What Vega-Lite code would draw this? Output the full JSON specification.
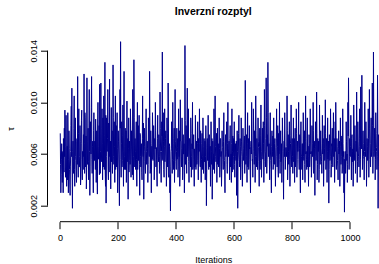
{
"$schema": "https://vega.github.io/schema/vega-lite/v6.json",
"width": 331.5,
"height": 187,
"autosize": {"type": "none"},
"padding": {"left": 47.5, "top": 34.7, "right": 0, "bottom": 42.3},
"background": "white",
"title": {"text": "Inverzní rozptyl", "font": "Liberation Sans", "fontSize": 10.5, "fontWeight": "bold", "color": "black", "anchor": "middle", "offset": 17},
"config": {"view": {"stroke": null}, "font": "Liberation Sans"},
"layer": [
{
"data": {"values": [
{"i":1,"v":0.0076},{"i":3,"v":0.0030},{"i":5,"v":0.0056},{"i":7,"v":0.0048},{"i":9,"v":0.0060},{"i":11,"v":0.0030},{"i":13,"v":0.0055},{"i":15,"v":0.0080},{"i":17,"v":0.0094},{"i":19,"v":0.0042},
{"i":21,"v":0.0090},{"i":23,"v":0.0035},{"i":25,"v":0.0066},{"i":27,"v":0.0092},{"i":29,"v":0.0030},{"i":31,"v":0.0078},{"i":33,"v":0.0048},{"i":35,"v":0.0028},{"i":37,"v":0.0062},{"i":39,"v":0.0097},
{"i":41,"v":0.0111},{"i":43,"v":0.0018},{"i":45,"v":0.0070},{"i":47,"v":0.0045},{"i":49,"v":0.0105},{"i":51,"v":0.0035},{"i":53,"v":0.0088},{"i":55,"v":0.0055},{"i":57,"v":0.0038},{"i":59,"v":0.0072},
{"i":61,"v":0.0120},{"i":63,"v":0.0042},{"i":65,"v":0.0095},{"i":67,"v":0.0050},{"i":69,"v":0.0082},{"i":71,"v":0.0036},{"i":73,"v":0.0068},{"i":75,"v":0.0094},{"i":77,"v":0.0040},{"i":79,"v":0.0058},
{"i":81,"v":0.0075},{"i":83,"v":0.0122},{"i":85,"v":0.0045},{"i":87,"v":0.0088},{"i":89,"v":0.0060},{"i":91,"v":0.0033},{"i":93,"v":0.0119},{"i":95,"v":0.0052},{"i":97,"v":0.0080},{"i":99,"v":0.0040},
{"i":101,"v":0.0110},{"i":103,"v":0.0028},{"i":105,"v":0.0085},{"i":107,"v":0.0060},{"i":109,"v":0.0120},{"i":111,"v":0.0045},{"i":113,"v":0.0070},{"i":115,"v":0.0030},{"i":117,"v":0.0092},{"i":119,"v":0.0055},
{"i":121,"v":0.0065},{"i":123,"v":0.0087},{"i":125,"v":0.0038},{"i":127,"v":0.0078},{"i":129,"v":0.0029},{"i":131,"v":0.0100},{"i":133,"v":0.0056},{"i":135,"v":0.0082},{"i":137,"v":0.0114},{"i":139,"v":0.0045},
{"i":141,"v":0.0115},{"i":143,"v":0.0060},{"i":145,"v":0.0095},{"i":147,"v":0.0040},{"i":149,"v":0.0072},{"i":151,"v":0.0105},{"i":153,"v":0.0048},{"i":155,"v":0.0131},{"i":157,"v":0.0035},{"i":159,"v":0.0022},
{"i":161,"v":0.0088},{"i":163,"v":0.0062},{"i":165,"v":0.0110},{"i":167,"v":0.0040},{"i":169,"v":0.0075},{"i":171,"v":0.0118},{"i":173,"v":0.0055},{"i":175,"v":0.0033},{"i":177,"v":0.0096},{"i":179,"v":0.0070},
{"i":181,"v":0.0045},{"i":183,"v":0.0129},{"i":185,"v":0.0058},{"i":187,"v":0.0085},{"i":189,"v":0.0038},{"i":191,"v":0.0105},{"i":193,"v":0.0068},{"i":195,"v":0.0050},{"i":197,"v":0.0092},{"i":199,"v":0.0030},
{"i":201,"v":0.0078},{"i":203,"v":0.0060},{"i":205,"v":0.0020},{"i":207,"v":0.0110},{"i":209,"v":0.0147},{"i":211,"v":0.0042},{"i":213,"v":0.0085},{"i":215,"v":0.0055},{"i":217,"v":0.0098},{"i":219,"v":0.0035},
{"i":221,"v":0.0124},{"i":223,"v":0.0048},{"i":225,"v":0.0080},{"i":227,"v":0.0062},{"i":229,"v":0.0038},{"i":231,"v":0.0101},{"i":233,"v":0.0070},{"i":235,"v":0.0025},{"i":237,"v":0.0088},{"i":239,"v":0.0055},
{"i":241,"v":0.0065},{"i":243,"v":0.0095},{"i":245,"v":0.0042},{"i":247,"v":0.0078},{"i":249,"v":0.0058},{"i":251,"v":0.0110},{"i":253,"v":0.0040},{"i":255,"v":0.0133},{"i":257,"v":0.0060},{"i":259,"v":0.0072},
{"i":261,"v":0.0048},{"i":263,"v":0.0085},{"i":265,"v":0.0035},{"i":267,"v":0.0100},{"i":269,"v":0.0062},{"i":271,"v":0.0055},{"i":273,"v":0.0090},{"i":275,"v":0.0028},{"i":277,"v":0.0075},{"i":279,"v":0.0050},
{"i":281,"v":0.0068},{"i":283,"v":0.0040},{"i":285,"v":0.0105},{"i":287,"v":0.0058},{"i":289,"v":0.0025},{"i":291,"v":0.0080},{"i":293,"v":0.0062},{"i":295,"v":0.0045},{"i":297,"v":0.0095},{"i":299,"v":0.0052},
{"i":301,"v":0.0070},{"i":303,"v":0.0038},{"i":305,"v":0.0088},{"i":307,"v":0.0060},{"i":309,"v":0.0124},{"i":311,"v":0.0045},{"i":313,"v":0.0078},{"i":315,"v":0.0030},{"i":317,"v":0.0066},{"i":319,"v":0.0092},
{"i":321,"v":0.0055},{"i":323,"v":0.0082},{"i":325,"v":0.0040},{"i":327,"v":0.0072},{"i":329,"v":0.0100},{"i":331,"v":0.0050},{"i":333,"v":0.0065},{"i":335,"v":0.0035},{"i":337,"v":0.0090},{"i":339,"v":0.0058},
{"i":341,"v":0.0075},{"i":343,"v":0.0045},{"i":345,"v":0.0108},{"i":347,"v":0.0062},{"i":349,"v":0.0038},{"i":351,"v":0.0085},{"i":353,"v":0.0139},{"i":355,"v":0.0055},{"i":357,"v":0.0070},{"i":359,"v":0.0042},
{"i":361,"v":0.0095},{"i":363,"v":0.0060},{"i":365,"v":0.0078},{"i":367,"v":0.0035},{"i":369,"v":0.0088},{"i":371,"v":0.0050},{"i":373,"v":0.0115},{"i":375,"v":0.0042},{"i":377,"v":0.0068},{"i":379,"v":0.0030},
{"i":381,"v":0.0016},{"i":383,"v":0.0062},{"i":385,"v":0.0085},{"i":387,"v":0.0045},{"i":389,"v":0.0100},{"i":391,"v":0.0055},{"i":393,"v":0.0072},{"i":395,"v":0.0038},{"i":397,"v":0.0110},{"i":399,"v":0.0060},
{"i":401,"v":0.0048},{"i":403,"v":0.0080},{"i":405,"v":0.0065},{"i":407,"v":0.0042},{"i":409,"v":0.0095},{"i":411,"v":0.0058},{"i":413,"v":0.0035},{"i":415,"v":0.0102},{"i":417,"v":0.0070},{"i":419,"v":0.0050},
{"i":421,"v":0.0088},{"i":423,"v":0.0040},{"i":425,"v":0.0075},{"i":427,"v":0.0060},{"i":429,"v":0.0030},{"i":431,"v":0.0144},{"i":433,"v":0.0052},{"i":435,"v":0.0082},{"i":437,"v":0.0045},{"i":439,"v":0.0111},
{"i":441,"v":0.0062},{"i":443,"v":0.0095},{"i":445,"v":0.0038},{"i":447,"v":0.0072},{"i":449,"v":0.0055},{"i":451,"v":0.0088},{"i":453,"v":0.0042},{"i":455,"v":0.0068},{"i":457,"v":0.0100},{"i":459,"v":0.0050},
{"i":461,"v":0.0075},{"i":463,"v":0.0035},{"i":465,"v":0.0062},{"i":467,"v":0.0090},{"i":469,"v":0.0048},{"i":471,"v":0.0070},{"i":473,"v":0.0055},{"i":475,"v":0.0085},{"i":477,"v":0.0040},{"i":479,"v":0.0065},
{"i":481,"v":0.0095},{"i":483,"v":0.0052},{"i":485,"v":0.0078},{"i":487,"v":0.0038},{"i":489,"v":0.0068},{"i":491,"v":0.0058},{"i":493,"v":0.0088},{"i":495,"v":0.0045},{"i":497,"v":0.0072},{"i":499,"v":0.0060},
{"i":501,"v":0.0040},{"i":503,"v":0.0082},{"i":505,"v":0.0020},{"i":507,"v":0.0065},{"i":509,"v":0.0055},{"i":511,"v":0.0090},{"i":513,"v":0.0048},{"i":515,"v":0.0075},{"i":517,"v":0.0062},{"i":519,"v":0.0035},
{"i":521,"v":0.0085},{"i":523,"v":0.0052},{"i":525,"v":0.0025},{"i":527,"v":0.0070},{"i":529,"v":0.0060},{"i":531,"v":0.0095},{"i":533,"v":0.0045},{"i":535,"v":0.0105},{"i":537,"v":0.0058},{"i":539,"v":0.0068},
{"i":541,"v":0.0038},{"i":543,"v":0.0080},{"i":545,"v":0.0062},{"i":547,"v":0.0050},{"i":549,"v":0.0088},{"i":551,"v":0.0042},{"i":553,"v":0.0072},{"i":555,"v":0.0058},{"i":557,"v":0.0035},{"i":559,"v":0.0078},
{"i":561,"v":0.0065},{"i":563,"v":0.0048},{"i":565,"v":0.0092},{"i":567,"v":0.0055},{"i":569,"v":0.0030},{"i":571,"v":0.0075},{"i":573,"v":0.0062},{"i":575,"v":0.0085},{"i":577,"v":0.0045},{"i":579,"v":0.0100},
{"i":581,"v":0.0058},{"i":583,"v":0.0070},{"i":585,"v":0.0040},{"i":587,"v":0.0082},{"i":589,"v":0.0055},{"i":591,"v":0.0038},{"i":593,"v":0.0095},{"i":595,"v":0.0062},{"i":597,"v":0.0048},{"i":599,"v":0.0072},
{"i":601,"v":0.0085},{"i":603,"v":0.0042},{"i":605,"v":0.0068},{"i":607,"v":0.0055},{"i":609,"v":0.0028},{"i":611,"v":0.0078},{"i":613,"v":0.0018},{"i":615,"v":0.0060},{"i":617,"v":0.0090},{"i":619,"v":0.0050},
{"i":621,"v":0.0072},{"i":623,"v":0.0040},{"i":625,"v":0.0088},{"i":627,"v":0.0062},{"i":629,"v":0.0035},{"i":631,"v":0.0080},{"i":633,"v":0.0055},{"i":635,"v":0.0068},{"i":637,"v":0.0045},{"i":639,"v":0.0117},
{"i":641,"v":0.0052},{"i":643,"v":0.0075},{"i":645,"v":0.0038},{"i":647,"v":0.0092},{"i":649,"v":0.0060},{"i":651,"v":0.0048},{"i":653,"v":0.0082},{"i":655,"v":0.0065},{"i":657,"v":0.0030},{"i":659,"v":0.0070},
{"i":661,"v":0.0100},{"i":663,"v":0.0055},{"i":665,"v":0.0042},{"i":667,"v":0.0095},{"i":669,"v":0.0062},{"i":671,"v":0.0078},{"i":673,"v":0.0038},{"i":675,"v":0.0105},{"i":677,"v":0.0058},{"i":679,"v":0.0072},
{"i":681,"v":0.0048},{"i":683,"v":0.0088},{"i":685,"v":0.0065},{"i":687,"v":0.0035},{"i":689,"v":0.0080},{"i":691,"v":0.0055},{"i":693,"v":0.0098},{"i":695,"v":0.0042},{"i":697,"v":0.0070},{"i":699,"v":0.0060},
{"i":701,"v":0.0085},{"i":703,"v":0.0038},{"i":705,"v":0.0110},{"i":707,"v":0.0062},{"i":709,"v":0.0050},{"i":711,"v":0.0119},{"i":713,"v":0.0045},{"i":715,"v":0.0075},{"i":717,"v":0.0131},{"i":719,"v":0.0058},
{"i":721,"v":0.0068},{"i":723,"v":0.0040},{"i":725,"v":0.0092},{"i":727,"v":0.0055},{"i":729,"v":0.0030},{"i":731,"v":0.0078},{"i":733,"v":0.0062},{"i":735,"v":0.0048},{"i":737,"v":0.0088},{"i":739,"v":0.0052},
{"i":741,"v":0.0072},{"i":743,"v":0.0035},{"i":745,"v":0.0065},{"i":747,"v":0.0095},{"i":749,"v":0.0050},{"i":751,"v":0.0082},{"i":753,"v":0.0042},{"i":755,"v":0.0060},{"i":757,"v":0.0100},{"i":759,"v":0.0045},
{"i":761,"v":0.0078},{"i":763,"v":0.0055},{"i":765,"v":0.0038},{"i":767,"v":0.0088},{"i":769,"v":0.0062},{"i":771,"v":0.0025},{"i":773,"v":0.0070},{"i":775,"v":0.0092},{"i":777,"v":0.0048},{"i":779,"v":0.0065},
{"i":781,"v":0.0058},{"i":783,"v":0.0105},{"i":785,"v":0.0040},{"i":787,"v":0.0075},{"i":789,"v":0.0052},{"i":791,"v":0.0085},{"i":793,"v":0.0035},{"i":795,"v":0.0068},{"i":797,"v":0.0098},{"i":799,"v":0.0050},
{"i":801,"v":0.0072},{"i":803,"v":0.0045},{"i":805,"v":0.0088},{"i":807,"v":0.0060},{"i":809,"v":0.0038},{"i":811,"v":0.0080},{"i":813,"v":0.0055},{"i":815,"v":0.0095},{"i":817,"v":0.0042},{"i":819,"v":0.0070},
{"i":821,"v":0.0062},{"i":823,"v":0.0100},{"i":825,"v":0.0048},{"i":827,"v":0.0075},{"i":829,"v":0.0030},{"i":831,"v":0.0085},{"i":833,"v":0.0058},{"i":835,"v":0.0068},{"i":837,"v":0.0040},{"i":839,"v":0.0092},
{"i":841,"v":0.0055},{"i":843,"v":0.0078},{"i":845,"v":0.0038},{"i":847,"v":0.0105},{"i":849,"v":0.0062},{"i":851,"v":0.0048},{"i":853,"v":0.0088},{"i":855,"v":0.0065},{"i":857,"v":0.0035},{"i":859,"v":0.0075},
{"i":861,"v":0.0050},{"i":863,"v":0.0095},{"i":865,"v":0.0060},{"i":867,"v":0.0042},{"i":869,"v":0.0082},{"i":871,"v":0.0058},{"i":873,"v":0.0100},{"i":875,"v":0.0045},{"i":877,"v":0.0070},{"i":879,"v":0.0028},
{"i":881,"v":0.0085},{"i":883,"v":0.0055},{"i":885,"v":0.0108},{"i":887,"v":0.0040},{"i":889,"v":0.0072},{"i":891,"v":0.0062},{"i":893,"v":0.0038},{"i":895,"v":0.0098},{"i":897,"v":0.0052},{"i":899,"v":0.0078},
{"i":901,"v":0.0060},{"i":903,"v":0.0045},{"i":905,"v":0.0090},{"i":907,"v":0.0068},{"i":909,"v":0.0035},{"i":911,"v":0.0082},{"i":913,"v":0.0055},{"i":915,"v":0.0102},{"i":917,"v":0.0048},{"i":919,"v":0.0072},
{"i":921,"v":0.0038},{"i":923,"v":0.0088},{"i":925,"v":0.0062},{"i":927,"v":0.0022},{"i":929,"v":0.0075},{"i":931,"v":0.0055},{"i":933,"v":0.0095},{"i":935,"v":0.0042},{"i":937,"v":0.0068},{"i":939,"v":0.0080},
{"i":941,"v":0.0050},{"i":943,"v":0.0092},{"i":945,"v":0.0060},{"i":947,"v":0.0038},{"i":949,"v":0.0085},{"i":951,"v":0.0100},{"i":953,"v":0.0048},{"i":955,"v":0.0072},{"i":957,"v":0.0055},{"i":959,"v":0.0040},
{"i":961,"v":0.0078},{"i":963,"v":0.0062},{"i":965,"v":0.0035},{"i":967,"v":0.0088},{"i":969,"v":0.0052},{"i":971,"v":0.0070},{"i":973,"v":0.0045},{"i":975,"v":0.0095},{"i":977,"v":0.0058},{"i":979,"v":0.0030},
{"i":981,"v":0.0015},{"i":983,"v":0.0062},{"i":985,"v":0.0045},{"i":987,"v":0.0085},{"i":989,"v":0.0055},{"i":991,"v":0.0038},{"i":993,"v":0.0100},{"i":995,"v":0.0119},{"i":997,"v":0.0048},{"i":999,"v":0.0072},
{"i":1001,"v":0.0058},{"i":1003,"v":0.0090},{"i":1005,"v":0.0040},{"i":1007,"v":0.0075},{"i":1009,"v":0.0062},{"i":1011,"v":0.0035},{"i":1013,"v":0.0098},{"i":1015,"v":0.0055},{"i":1017,"v":0.0082},{"i":1019,"v":0.0045},
{"i":1021,"v":0.0070},{"i":1023,"v":0.0108},{"i":1025,"v":0.0038},{"i":1027,"v":0.0085},{"i":1029,"v":0.0060},{"i":1031,"v":0.0050},{"i":1033,"v":0.0095},{"i":1035,"v":0.0042},{"i":1037,"v":0.0112},{"i":1039,"v":0.0065},
{"i":1041,"v":0.0121},{"i":1043,"v":0.0048},{"i":1045,"v":0.0078},{"i":1047,"v":0.0058},{"i":1049,"v":0.0040},{"i":1051,"v":0.0100},{"i":1053,"v":0.0062},{"i":1055,"v":0.0085},{"i":1057,"v":0.0035},{"i":1059,"v":0.0072},
{"i":1061,"v":0.0055},{"i":1063,"v":0.0095},{"i":1065,"v":0.0042},{"i":1067,"v":0.0110},{"i":1069,"v":0.0068},{"i":1071,"v":0.0050},{"i":1073,"v":0.0088},{"i":1075,"v":0.0062},{"i":1077,"v":0.0115},{"i":1079,"v":0.0045},
{"i":1081,"v":0.0139},{"i":1083,"v":0.0058},{"i":1085,"v":0.0080},{"i":1087,"v":0.0040},{"i":1089,"v":0.0092},{"i":1091,"v":0.0065},{"i":1093,"v":0.0048},{"i":1095,"v":0.0121},{"i":1097,"v":0.0018},{"i":1099,"v":0.0075},
{"i":2,"v":0.0052},{"i":4,"v":0.0044},{"i":6,"v":0.0068},{"i":8,"v":0.0038},{"i":10,"v":0.0062},{"i":12,"v":0.0072},{"i":14,"v":0.0046},{"i":16,"v":0.0058},{"i":18,"v":0.0066},{"i":20,"v":0.0050},
{"i":22,"v":0.0060},{"i":24,"v":0.0048},{"i":26,"v":0.0040},{"i":28,"v":0.0074},{"i":30,"v":0.0056},{"i":32,"v":0.0064},{"i":34,"v":0.0036},{"i":36,"v":0.0050},{"i":38,"v":0.0082},{"i":40,"v":0.0058},
{"i":42,"v":0.0046},{"i":44,"v":0.0062},{"i":46,"v":0.0054},{"i":48,"v":0.0080},{"i":50,"v":0.0048},{"i":52,"v":0.0066},{"i":54,"v":0.0058},{"i":56,"v":0.0044},{"i":58,"v":0.0070},{"i":60,"v":0.0052},
{"i":62,"v":0.0064},{"i":64,"v":0.0076},{"i":66,"v":0.0050},{"i":68,"v":0.0058},{"i":70,"v":0.0070},{"i":72,"v":0.0044},{"i":74,"v":0.0086},{"i":76,"v":0.0056},{"i":78,"v":0.0062},{"i":80,"v":0.0048},
{"i":82,"v":0.0058},{"i":84,"v":0.0068},{"i":86,"v":0.0092},{"i":88,"v":0.0050},{"i":90,"v":0.0074},{"i":92,"v":0.0046},{"i":94,"v":0.0064},{"i":96,"v":0.0070},{"i":98,"v":0.0054},{"i":100,"v":0.0084},
{"i":102,"v":0.0062},{"i":104,"v":0.0050},{"i":106,"v":0.0072},{"i":108,"v":0.0096},{"i":110,"v":0.0056},{"i":112,"v":0.0066},{"i":114,"v":0.0048},{"i":116,"v":0.0078},{"i":118,"v":0.0060},{"i":120,"v":0.0070},
{"i":122,"v":0.0048},{"i":124,"v":0.0074},{"i":126,"v":0.0060},{"i":128,"v":0.0052},{"i":130,"v":0.0084},{"i":132,"v":0.0058},{"i":134,"v":0.0066},{"i":136,"v":0.0044},{"i":138,"v":0.0076},{"i":140,"v":0.0062},
{"i":142,"v":0.0080},{"i":144,"v":0.0054},{"i":146,"v":0.0068},{"i":148,"v":0.0088},{"i":150,"v":0.0050},{"i":152,"v":0.0062},{"i":154,"v":0.0074},{"i":156,"v":0.0046},{"i":158,"v":0.0090},{"i":160,"v":0.0058},
{"i":162,"v":0.0064},{"i":164,"v":0.0072},{"i":166,"v":0.0050},{"i":168,"v":0.0084},{"i":170,"v":0.0058},{"i":172,"v":0.0046},{"i":174,"v":0.0070},{"i":176,"v":0.0062},{"i":178,"v":0.0054},{"i":180,"v":0.0078},
{"i":182,"v":0.0060},{"i":184,"v":0.0088},{"i":186,"v":0.0052},{"i":188,"v":0.0066},{"i":190,"v":0.0074},{"i":192,"v":0.0048},{"i":194,"v":0.0082},{"i":196,"v":0.0058},{"i":198,"v":0.0064},{"i":200,"v":0.0050},
{"i":202,"v":0.0070},{"i":204,"v":0.0046},{"i":206,"v":0.0060},{"i":208,"v":0.0080},{"i":210,"v":0.0056},{"i":212,"v":0.0068},{"i":214,"v":0.0050},{"i":216,"v":0.0074},{"i":218,"v":0.0062},{"i":220,"v":0.0086},
{"i":222,"v":0.0058},{"i":224,"v":0.0066},{"i":226,"v":0.0048},{"i":228,"v":0.0078},{"i":230,"v":0.0060},{"i":232,"v":0.0054},{"i":234,"v":0.0072},{"i":236,"v":0.0064},{"i":238,"v":0.0046},{"i":240,"v":0.0070},
{"i":242,"v":0.0052},{"i":244,"v":0.0080},{"i":246,"v":0.0060},{"i":248,"v":0.0066},{"i":250,"v":0.0044},{"i":252,"v":0.0074},{"i":254,"v":0.0058},{"i":256,"v":0.0088},{"i":258,"v":0.0050},{"i":260,"v":0.0062},
{"i":262,"v":0.0070},{"i":264,"v":0.0056},{"i":266,"v":0.0064},{"i":268,"v":0.0048},{"i":270,"v":0.0082},{"i":272,"v":0.0060},{"i":274,"v":0.0052},{"i":276,"v":0.0076},{"i":278,"v":0.0058},{"i":280,"v":0.0066},
{"i":282,"v":0.0046},{"i":284,"v":0.0072},{"i":286,"v":0.0060},{"i":288,"v":0.0084},{"i":290,"v":0.0054},{"i":292,"v":0.0066},{"i":294,"v":0.0050},{"i":296,"v":0.0070},{"i":298,"v":0.0062},{"i":300,"v":0.0056},
{"i":302,"v":0.0064},{"i":304,"v":0.0052},{"i":306,"v":0.0074},{"i":308,"v":0.0058},{"i":310,"v":0.0090},{"i":312,"v":0.0048},{"i":314,"v":0.0068},{"i":316,"v":0.0060},{"i":318,"v":0.0056},{"i":320,"v":0.0078},
{"i":322,"v":0.0060},{"i":324,"v":0.0070},{"i":326,"v":0.0050},{"i":328,"v":0.0064},{"i":330,"v":0.0078},{"i":332,"v":0.0056},{"i":334,"v":0.0046},{"i":336,"v":0.0072},{"i":338,"v":0.0062},{"i":340,"v":0.0054},
{"i":342,"v":0.0068},{"i":344,"v":0.0058},{"i":346,"v":0.0080},{"i":348,"v":0.0050},{"i":350,"v":0.0062},{"i":352,"v":0.0074},{"i":354,"v":0.0056},{"i":356,"v":0.0092},{"i":358,"v":0.0048},{"i":360,"v":0.0066},
{"i":362,"v":0.0054},{"i":364,"v":0.0072},{"i":366,"v":0.0060},{"i":368,"v":0.0046},{"i":370,"v":0.0076},{"i":372,"v":0.0058},{"i":374,"v":0.0084},{"i":376,"v":0.0052},{"i":378,"v":0.0066},{"i":380,"v":0.0044},
{"i":382,"v":0.0050},{"i":384,"v":0.0064},{"i":386,"v":0.0074},{"i":388,"v":0.0056},{"i":390,"v":0.0068},{"i":392,"v":0.0048},{"i":394,"v":0.0080},{"i":396,"v":0.0060},{"i":398,"v":0.0070},{"i":400,"v":0.0054},
{"i":402,"v":0.0062},{"i":404,"v":0.0056},{"i":406,"v":0.0072},{"i":408,"v":0.0050},{"i":410,"v":0.0066},{"i":412,"v":0.0078},{"i":414,"v":0.0046},{"i":416,"v":0.0070},{"i":418,"v":0.0058},{"i":420,"v":0.0064},
{"i":422,"v":0.0074},{"i":424,"v":0.0052},{"i":426,"v":0.0060},{"i":428,"v":0.0068},{"i":430,"v":0.0048},{"i":432,"v":0.0086},{"i":434,"v":0.0062},{"i":436,"v":0.0056},{"i":438,"v":0.0080},{"i":440,"v":0.0058},
{"i":442,"v":0.0066},{"i":444,"v":0.0054},{"i":446,"v":0.0072},{"i":448,"v":0.0060},{"i":450,"v":0.0050},{"i":452,"v":0.0076},{"i":454,"v":0.0058},{"i":456,"v":0.0064},{"i":458,"v":0.0048},{"i":460,"v":0.0070},
{"i":462,"v":0.0056},{"i":464,"v":0.0064},{"i":466,"v":0.0050},{"i":468,"v":0.0074},{"i":470,"v":0.0060},{"i":472,"v":0.0052},{"i":474,"v":0.0068},{"i":476,"v":0.0058},{"i":478,"v":0.0072},{"i":480,"v":0.0062},
{"i":482,"v":0.0068},{"i":484,"v":0.0050},{"i":486,"v":0.0062},{"i":488,"v":0.0056},{"i":490,"v":0.0076},{"i":492,"v":0.0048},{"i":494,"v":0.0066},{"i":496,"v":0.0060},{"i":498,"v":0.0054},{"i":500,"v":0.0070},
{"i":502,"v":0.0058},{"i":504,"v":0.0064},{"i":506,"v":0.0046},{"i":508,"v":0.0072},{"i":510,"v":0.0060},{"i":512,"v":0.0054},{"i":514,"v":0.0068},{"i":516,"v":0.0050},{"i":518,"v":0.0066},{"i":520,"v":0.0056},
{"i":522,"v":0.0062},{"i":524,"v":0.0072},{"i":526,"v":0.0050},{"i":528,"v":0.0060},{"i":530,"v":0.0048},{"i":532,"v":0.0074},{"i":534,"v":0.0058},{"i":536,"v":0.0066},{"i":538,"v":0.0054},{"i":540,"v":0.0076},
{"i":542,"v":0.0060},{"i":544,"v":0.0052},{"i":546,"v":0.0068},{"i":548,"v":0.0056},{"i":550,"v":0.0064},{"i":552,"v":0.0048},{"i":554,"v":0.0072},{"i":556,"v":0.0062},{"i":558,"v":0.0050},{"i":560,"v":0.0066},
{"i":562,"v":0.0056},{"i":564,"v":0.0070},{"i":566,"v":0.0060},{"i":568,"v":0.0048},{"i":570,"v":0.0066},{"i":572,"v":0.0058},{"i":574,"v":0.0074},{"i":576,"v":0.0052},{"i":578,"v":0.0068},{"i":580,"v":0.0060},
{"i":582,"v":0.0064},{"i":584,"v":0.0054},{"i":586,"v":0.0072},{"i":588,"v":0.0050},{"i":590,"v":0.0060},{"i":592,"v":0.0068},{"i":594,"v":0.0046},{"i":596,"v":0.0074},{"i":598,"v":0.0058},{"i":600,"v":0.0062},
{"i":602,"v":0.0052},{"i":604,"v":0.0066},{"i":606,"v":0.0058},{"i":608,"v":0.0070},{"i":610,"v":0.0048},{"i":612,"v":0.0062},{"i":614,"v":0.0054},{"i":616,"v":0.0076},{"i":618,"v":0.0060},{"i":620,"v":0.0056},
{"i":622,"v":0.0066},{"i":624,"v":0.0052},{"i":626,"v":0.0070},{"i":628,"v":0.0058},{"i":630,"v":0.0048},{"i":632,"v":0.0064},{"i":634,"v":0.0060},{"i":636,"v":0.0074},{"i":638,"v":0.0056},{"i":640,"v":0.0084},
{"i":642,"v":0.0062},{"i":644,"v":0.0058},{"i":646,"v":0.0068},{"i":648,"v":0.0050},{"i":650,"v":0.0072},{"i":652,"v":0.0056},{"i":654,"v":0.0064},{"i":656,"v":0.0046},{"i":658,"v":0.0066},{"i":660,"v":0.0060},
{"i":662,"v":0.0074},{"i":664,"v":0.0056},{"i":666,"v":0.0064},{"i":668,"v":0.0080},{"i":670,"v":0.0052},{"i":672,"v":0.0068},{"i":674,"v":0.0058},{"i":676,"v":0.0078},{"i":678,"v":0.0050},{"i":680,"v":0.0066},
{"i":682,"v":0.0060},{"i":684,"v":0.0070},{"i":686,"v":0.0054},{"i":688,"v":0.0066},{"i":690,"v":0.0048},{"i":692,"v":0.0074},{"i":694,"v":0.0062},{"i":696,"v":0.0058},{"i":698,"v":0.0080},{"i":700,"v":0.0056},
{"i":702,"v":0.0068},{"i":704,"v":0.0054},{"i":706,"v":0.0082},{"i":708,"v":0.0060},{"i":710,"v":0.0072},{"i":712,"v":0.0088},{"i":714,"v":0.0056},{"i":716,"v":0.0066},{"i":718,"v":0.0092},{"i":720,"v":0.0062},
{"i":722,"v":0.0056},{"i":724,"v":0.0070},{"i":726,"v":0.0060},{"i":728,"v":0.0048},{"i":730,"v":0.0066},{"i":732,"v":0.0058},{"i":734,"v":0.0074},{"i":736,"v":0.0052},{"i":738,"v":0.0062},{"i":740,"v":0.0068},
{"i":742,"v":0.0060},{"i":744,"v":0.0052},{"i":746,"v":0.0072},{"i":748,"v":0.0058},{"i":750,"v":0.0066},{"i":752,"v":0.0050},{"i":754,"v":0.0076},{"i":756,"v":0.0062},{"i":758,"v":0.0056},{"i":760,"v":0.0070},
{"i":762,"v":0.0054},{"i":764,"v":0.0068},{"i":766,"v":0.0060},{"i":768,"v":0.0074},{"i":770,"v":0.0050},{"i":772,"v":0.0064},{"i":774,"v":0.0058},{"i":776,"v":0.0070},{"i":778,"v":0.0056},{"i":780,"v":0.0062},
{"i":782,"v":0.0066},{"i":784,"v":0.0078},{"i":786,"v":0.0052},{"i":788,"v":0.0062},{"i":790,"v":0.0070},{"i":792,"v":0.0056},{"i":794,"v":0.0048},{"i":796,"v":0.0074},{"i":798,"v":0.0060},{"i":800,"v":0.0064},
{"i":802,"v":0.0058},{"i":804,"v":0.0068},{"i":806,"v":0.0054},{"i":808,"v":0.0072},{"i":810,"v":0.0060},{"i":812,"v":0.0050},{"i":814,"v":0.0066},{"i":816,"v":0.0076},{"i":818,"v":0.0056},{"i":820,"v":0.0062},
{"i":822,"v":0.0070},{"i":824,"v":0.0056},{"i":826,"v":0.0064},{"i":828,"v":0.0052},{"i":830,"v":0.0074},{"i":832,"v":0.0060},{"i":834,"v":0.0048},{"i":836,"v":0.0068},{"i":838,"v":0.0062},{"i":840,"v":0.0058},
{"i":842,"v":0.0064},{"i":844,"v":0.0052},{"i":846,"v":0.0070},{"i":848,"v":0.0060},{"i":850,"v":0.0056},{"i":852,"v":0.0072},{"i":854,"v":0.0050},{"i":856,"v":0.0066},{"i":858,"v":0.0058},{"i":860,"v":0.0068},
{"i":862,"v":0.0056},{"i":864,"v":0.0074},{"i":866,"v":0.0062},{"i":868,"v":0.0050},{"i":870,"v":0.0068},{"i":872,"v":0.0060},{"i":874,"v":0.0078},{"i":876,"v":0.0054},{"i":878,"v":0.0064},{"i":880,"v":0.0058},
{"i":882,"v":0.0066},{"i":884,"v":0.0060},{"i":886,"v":0.0076},{"i":888,"v":0.0052},{"i":890,"v":0.0062},{"i":892,"v":0.0070},{"i":894,"v":0.0048},{"i":896,"v":0.0072},{"i":898,"v":0.0058},{"i":900,"v":0.0064},
{"i":902,"v":0.0054},{"i":904,"v":0.0068},{"i":906,"v":0.0060},{"i":908,"v":0.0072},{"i":910,"v":0.0050},{"i":912,"v":0.0064},{"i":914,"v":0.0058},{"i":916,"v":0.0076},{"i":918,"v":0.0056},{"i":920,"v":0.0066},
{"i":922,"v":0.0062},{"i":924,"v":0.0056},{"i":926,"v":0.0070},{"i":928,"v":0.0048},{"i":930,"v":0.0064},{"i":932,"v":0.0058},{"i":934,"v":0.0074},{"i":936,"v":0.0052},{"i":938,"v":0.0066},{"i":940,"v":0.0060},
{"i":942,"v":0.0068},{"i":944,"v":0.0058},{"i":946,"v":0.0072},{"i":948,"v":0.0054},{"i":950,"v":0.0062},{"i":952,"v":0.0078},{"i":954,"v":0.0056},{"i":956,"v":0.0066},{"i":958,"v":0.0050},{"i":960,"v":0.0064},
{"i":962,"v":0.0060},{"i":964,"v":0.0070},{"i":966,"v":0.0054},{"i":968,"v":0.0066},{"i":970,"v":0.0058},{"i":972,"v":0.0074},{"i":974,"v":0.0050},{"i":976,"v":0.0068},{"i":978,"v":0.0062},{"i":980,"v":0.0056},
{"i":982,"v":0.0048},{"i":984,"v":0.0062},{"i":986,"v":0.0056},{"i":988,"v":0.0070},{"i":990,"v":0.0060},{"i":992,"v":0.0052},{"i":994,"v":0.0074},{"i":996,"v":0.0080},{"i":998,"v":0.0058},{"i":1000,"v":0.0064},
{"i":1002,"v":0.0066},{"i":1004,"v":0.0058},{"i":1006,"v":0.0072},{"i":1008,"v":0.0054},{"i":1010,"v":0.0064},{"i":1012,"v":0.0050},{"i":1014,"v":0.0076},{"i":1016,"v":0.0060},{"i":1018,"v":0.0068},{"i":1020,"v":0.0056},
{"i":1022,"v":0.0062},{"i":1024,"v":0.0076},{"i":1026,"v":0.0054},{"i":1028,"v":0.0070},{"i":1030,"v":0.0058},{"i":1032,"v":0.0066},{"i":1034,"v":0.0072},{"i":1036,"v":0.0056},{"i":1038,"v":0.0080},{"i":1040,"v":0.0064},
{"i":1042,"v":0.0078},{"i":1044,"v":0.0060},{"i":1046,"v":0.0068},{"i":1048,"v":0.0056},{"i":1050,"v":0.0062},{"i":1052,"v":0.0074},{"i":1054,"v":0.0058},{"i":1056,"v":0.0070},{"i":1058,"v":0.0052},{"i":1060,"v":0.0066},
{"i":1062,"v":0.0064},{"i":1064,"v":0.0072},{"i":1066,"v":0.0056},{"i":1068,"v":0.0080},{"i":1070,"v":0.0060},{"i":1072,"v":0.0068},{"i":1074,"v":0.0058},{"i":1076,"v":0.0074},{"i":1078,"v":0.0082},{"i":1080,"v":0.0062},
{"i":1082,"v":0.0090},{"i":1084,"v":0.0064},{"i":1086,"v":0.0070},{"i":1088,"v":0.0056},{"i":1090,"v":0.0076},{"i":1092,"v":0.0062},{"i":1094,"v":0.0058},{"i":1096,"v":0.0084},{"i":1098,"v":0.0050},{"i":1100,"v":0.0066}
]},
"mark": {"type": "line", "color": "#00008B", "strokeWidth": 1, "clip": false},
"encoding": {
"order": {"field": "i", "type": "quantitative"},
"x": {"field": "i", "type": "quantitative", "scale": {"domain": [-43, 1100.1], "nice": false, "zero": false},
 "axis": {"values": [0, 200, 400, 600, 800, 1000], "domain": false, "grid": false, "tickSize": 7, "tickColor": "black", "tickWidth": 1, "labelFont": "Liberation Sans", "labelFontSize": 9, "labelColor": "black", "labelBaseline": "alphabetic", "labelPadding": 12, "labelFlush": false, "labelOverlap": false, "format": "d", "title": "Iterations", "titleFont": "Liberation Sans", "titleFontSize": 9, "titleFontWeight": "normal", "titleColor": "black", "titleBaseline": "alphabetic", "titleY": 40.8}},
"y": {"field": "v", "type": "quantitative", "scale": {"domain": [0.00076, 0.01524], "nice": false, "zero": false},
 "axis": {"values": [0.002, 0.004, 0.006, 0.008, 0.01, 0.012, 0.014], "labelExpr": "round(datum.value*1000) % 4 == 2 ? format(datum.value, '.3f') : ' '", "domain": false, "grid": false, "tickSize": 7, "tickColor": "black", "tickWidth": 1, "labelFont": "Liberation Sans", "labelFontSize": 9, "labelColor": "black", "labelAngle": -90, "labelAlign": "center", "labelBaseline": "alphabetic", "labelPadding": 4.5, "labelFlush": false, "labelOverlap": false, "title": "τ", "titleFont": "Liberation Sans", "titleFontSize": 9, "titleFontWeight": "normal", "titleColor": "black", "titleAngle": -90, "titleBaseline": "alphabetic", "titleX": -34, "titleY": 93.8}}
}
},
{
"data": {"values": [{}]},
"mark": {"type": "rule", "color": "black", "strokeWidth": 1},
"encoding": {"x": {"datum": 0, "type": "quantitative", "title": "Iterations"}, "x2": {"datum": 1000}, "y": {"datum": 0.00076, "type": "quantitative", "title": "τ"}}
},
{
"data": {"values": [{}]},
"mark": {"type": "rule", "color": "black", "strokeWidth": 1},
"encoding": {"x": {"datum": -43, "type": "quantitative", "title": "Iterations"}, "y": {"datum": 0.002, "type": "quantitative", "title": "τ"}, "y2": {"datum": 0.014}}
}
]
}
